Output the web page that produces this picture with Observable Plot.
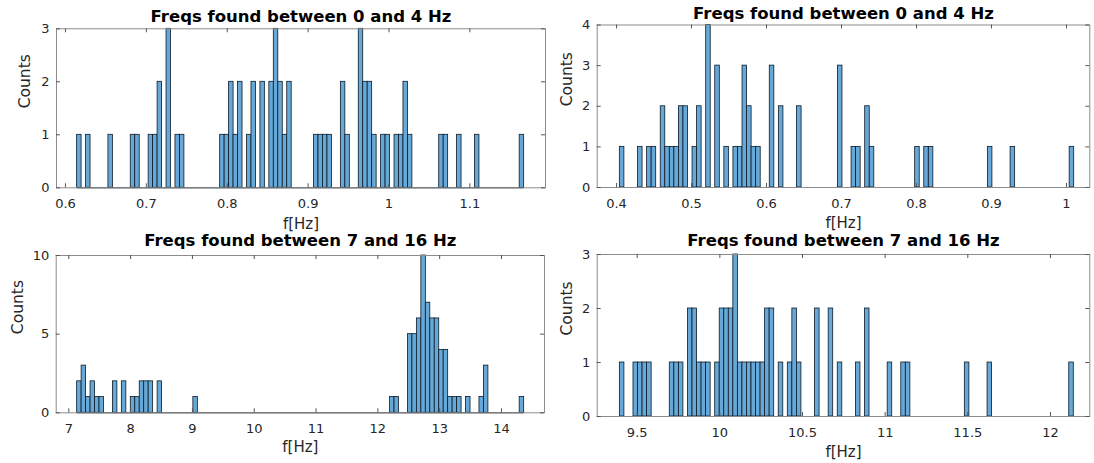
<!DOCTYPE html>
<html>
<head>
<meta charset="utf-8">
<script src="https://cdn.jsdelivr.net/npm/d3@7"></script>
<script src="https://cdn.jsdelivr.net/npm/@observablehq/plot@0.6"></script>
<style>
  html, body { margin: 0; padding: 0; background: #fff; }
  #wrap { position: relative; width: 1094px; height: 463px; overflow: hidden; background: #fff; }
  #wrap svg { position: absolute; overflow: visible; }
</style>
</head>
<body>
<div id="wrap"></div>
<script>
// ---------- data (histogram counts, 100 bins per panel) ----------
const title1 = "Freqs found between 0 and 4 Hz";
const title2 = "Freqs found between 7 and 16 Hz";
const xLabel = "f[Hz]";
const yLabel = "Counts";

// Panel A: top-left
const binStartA = 0.6144, binWidthA = 0.005527;
const countsA = [1,0,1,0,0,0,0,1,0,0,
                 0,0,1,1,0,0,1,1,2,0,
                 3,0,1,1,0,0,0,0,0,0,
                 0,0,1,1,2,1,2,0,1,2,
                 0,2,0,2,3,2,1,2,0,0,
                 0,0,0,1,1,1,1,0,0,2,
                 1,0,0,3,2,2,1,0,1,1,
                 0,1,1,2,1,0,0,0,0,0,
                 0,1,1,0,0,1,0,0,0,1,
                 0,0,0,0,0,0,0,0,0,1];
const xDomainA = [0.5889, 1.1935];
const xTicksA = [0.6, 0.7, 0.8, 0.9, 1, 1.1];
const yTicksA = [0, 1, 2, 3];

// Panel B: top-right
const binStartB = 0.4044, binWidthB = 0.006059;
const countsB = [1,0,0,0,1,0,1,1,0,2,
                 1,1,1,2,2,0,1,2,0,4,
                 0,3,0,1,0,1,1,3,2,1,
                 1,0,0,3,0,2,0,0,0,2,
                 0,0,0,0,0,0,0,0,3,0,
                 0,1,1,0,2,1,0,0,0,0,
                 0,0,0,0,0,1,0,1,1,0,
                 0,0,0,0,0,0,0,0,0,0,
                 0,1,0,0,0,0,1,0,0,0,
                 0,0,0,0,0,0,0,0,0,1];
const xDomainB = [0.3742, 1.0311];
const xTicksB = [0.4, 0.5, 0.6, 0.7, 0.8, 0.9, 1];
const yTicksB = [0, 1, 2, 3, 4];

// Panel C: bottom-left
const binStartC = 7.135, binWidthC = 0.07232;
const countsC = [2,3,1,2,1,1,0,0,2,0,
                 2,0,1,1,2,2,2,0,2,0,
                 0,0,0,0,0,0,1,0,0,0,
                 0,0,0,0,0,0,0,0,0,0,
                 0,0,0,0,0,0,0,0,0,0,
                 0,0,0,0,0,0,0,0,0,0,
                 0,0,0,0,0,0,0,0,0,0,
                 1,1,0,0,5,5,6,10,7,6,
                 6,4,4,1,1,1,0,1,0,0,
                 1,3,0,0,0,0,0,0,0,1];
const xDomainC = [6.796, 14.696];
const xTicksC = [7, 8, 9, 10, 11, 12, 13, 14];
const yTicksC = [0, 5, 10];

// Panel D: bottom-right
const binStartD = 9.3951, binWidthD = 0.02746;
const countsD = [1,0,0,1,1,1,1,0,0,0,
                 0,1,1,1,0,2,2,1,1,1,
                 0,1,2,2,2,3,1,1,1,1,
                 1,1,2,2,0,1,0,1,2,1,
                 0,0,0,2,0,0,2,0,1,0,
                 0,0,1,0,2,0,0,0,0,1,
                 0,0,1,1,0,0,0,0,0,0,
                 0,0,0,0,0,0,1,0,0,0,
                 0,1,0,0,0,0,0,0,0,0,
                 0,0,0,0,0,0,0,0,0,1];
const xDomainD = [9.258, 12.238];
const xTicksD = [9.5, 10, 10.5, 11, 11.5, 12];
const yTicksD = [0, 1, 2, 3];

// ---------- drawing ----------
const FONT = "DejaVu Sans, Liberation Sans, sans-serif";
const BAR_FILL = "#66a9d8";
const TICK_COLOR = "#555";
const FRAME_COLOR = "#8c8c8c";
const TEXT_COLOR = "#262626";

function panel(cfg) {
  const {counts, start, width, xDomain, xTicks, yTicks, title,
         W, H, ml, mr, mt, mb, left, top, titleDy, xLabelDy, yLabelDx} = cfg;
  const bins = counts.map((c, i) => ({x1: start + i * width, x2: start + (i + 1) * width, c}));
  const innerH = H - mt - mb;
  const innerW = W - ml - mr;
  const yMax = yTicks[yTicks.length - 1];
  const svg = Plot.plot({
    width: W, height: H,
    marginLeft: ml, marginRight: mr, marginTop: mt, marginBottom: mb,
    style: {fontFamily: FONT, background: "transparent", overflow: "visible"},
    x: {domain: xDomain, axis: null},
    y: {domain: [0, yMax], axis: null},
    marks: [
      Plot.rectY(bins.filter(d => d.c > 0), {x1: "x1", x2: "x2", y: "c",
        fill: BAR_FILL, stroke: "#0d1a26", strokeWidth: 0.8}),
      Plot.ruleY([0], {x1: start, x2: start + counts.length * width, stroke: "#0d1a26", strokeWidth: 1}),
      Plot.frame({stroke: FRAME_COLOR, strokeWidth: 1}),
      // inward ticks: bottom, top, left, right
      Plot.tickX(xTicks, {x: d => d, insetTop: innerH - 4, stroke: TICK_COLOR}),
      Plot.tickX(xTicks, {x: d => d, insetBottom: innerH - 4, stroke: TICK_COLOR}),
      Plot.tickY(yTicks, {y: d => d, insetRight: innerW - 4, stroke: TICK_COLOR}),
      Plot.tickY(yTicks, {y: d => d, insetLeft: innerW - 4, stroke: TICK_COLOR}),
      Plot.axisX(xTicks, {anchor: "bottom", tickSize: 0, tickPadding: 11, label: null,
        tickFormat: d => String(d), fontSize: 13, fill: TEXT_COLOR}),
      Plot.axisY(yTicks, {anchor: "left", tickSize: 0, tickPadding: 7, label: null,
        tickFormat: d => String(d), fontSize: 13, fill: TEXT_COLOR}),
      Plot.text([title], {text: d => d, frameAnchor: "top", lineAnchor: "middle", dy: titleDy,
        fontSize: 16.5, fontWeight: "bold", fill: "#000"}),
      Plot.text([xLabel], {text: d => d, frameAnchor: "bottom", lineAnchor: "middle", dy: xLabelDy,
        fontSize: 15, fill: TEXT_COLOR}),
      Plot.text([yLabel], {text: d => d, frameAnchor: "left", lineAnchor: "middle", dx: yLabelDx, rotate: -90,
        fontSize: 15.5, fill: TEXT_COLOR})
    ]
  });
  svg.style.left = left + "px";
  svg.style.top = top + "px";
  document.getElementById("wrap").appendChild(svg);
}

panel({counts: countsA, start: binStartA, width: binWidthA, xDomain: xDomainA,
       xTicks: xTicksA, yTicks: yTicksA, title: title1,
       W: 547, H: 231, ml: 56, mr: 2, mt: 28.3, mb: 43.7, left: 0, top: 0,
       titleDy: -12.5, xLabelDy: 36, yLabelDx: -31});
panel({counts: countsB, start: binStartB, width: binWidthB, xDomain: xDomainB,
       xTicks: xTicksB, yTicks: yTicksB, title: title1,
       W: 547, H: 231, ml: 49.7, mr: 4.7, mt: 24.5, mb: 44, left: 547, top: 0,
       titleDy: -11.5, xLabelDy: 36, yLabelDx: -30});
panel({counts: countsC, start: binStartC, width: binWidthC, xDomain: xDomainC,
       xTicks: xTicksC, yTicks: yTicksC, title: title2,
       W: 547, H: 232, ml: 55.7, mr: 3, mt: 24, mb: 50.7, left: 0, top: 231,
       titleDy: -14.5, xLabelDy: 34, yLabelDx: -38.5});
panel({counts: countsD, start: binStartD, width: binWidthD, xDomain: xDomainD,
       xTicks: xTicksD, yTicks: yTicksD, title: title2,
       W: 547, H: 232, ml: 49.7, mr: 4.7, mt: 23, mb: 47, left: 547, top: 231,
       titleDy: -14, xLabelDy: 36, yLabelDx: -30});
</script>
</body>
</html>
